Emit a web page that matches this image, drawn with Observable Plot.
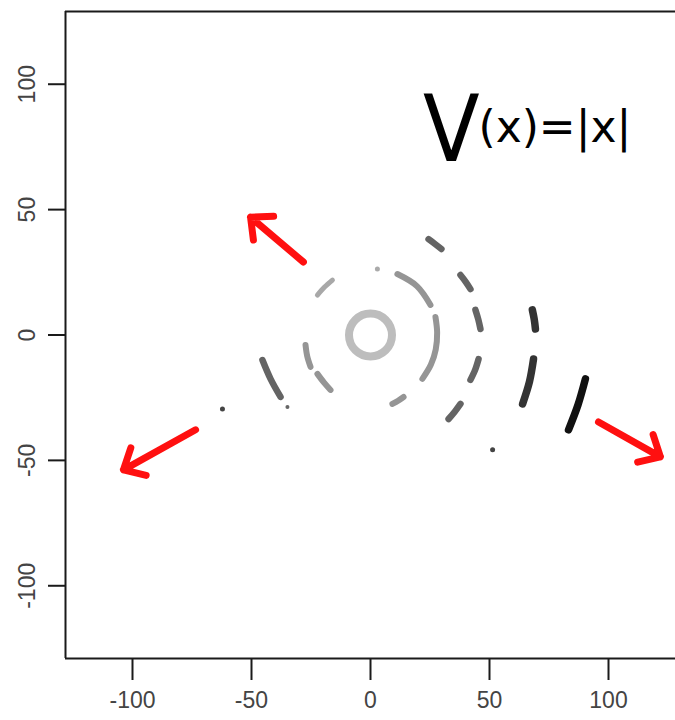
<!DOCTYPE html>
<html><head><meta charset="utf-8">
<script src="https://cdn.jsdelivr.net/npm/d3@7"></script>
<script src="https://cdn.jsdelivr.net/npm/@observablehq/plot@0.6"></script>
<style>
body{margin:0;background:#fff}
</style>
</head><body><div id="chart"></div>
<script>
// axis ticks
const xTicks = [-100, -50, 0, 50, 100];
const yTicks = [-100, -50, 0, 50, 100];
const xDomain = [-128.15, 128.15];
const yDomain = [-129, 129];

// innermost full ring (centre)
const ring1Center = [[0, 0]];

// arc pieces of each ring
const ring2Arcs = [
  [[11.3, 24.3], [19.5, 19.5], [25.2, 12.0]],
  [[27.3, 7.2], [28.0, 1.0], [27.4, -5.8], [25.4, -11.8], [21.8, -17.5]],
  [[9.2, -27.5], [11.6, -26.2], [13.9, -24.7]],
  [[-22.3, -15.5], [-19.6, -18.9], [-16.8, -21.9]],
  [[-27.3, -4.0], [-26.6, -8.4], [-25.2, -12.7]]
];
const ring2FaintArcs = [
  [[-22.3, 15.9], [-19.3, 19.1], [-16.0, 21.9]]
];
const ring2Dots = [[2.9, 26.3]];

const ring3Arcs = [
  [[24.4, 38.2], [27.1, 36.3], [29.8, 34.3]],
  [[37.8, 23.9], [40.0, 21.2], [42.0, 18.3]],
  [[44.1, 10.0], [45.3, 6.2], [46.2, 2.4]],
  [[45.4, -9.6], [44.0, -13.8], [42.0, -17.9]],
  [[37.8, -27.5], [35.4, -30.6], [32.8, -33.5]],
  [[-45.4, -10.0], [-42.0, -17.5], [-37.8, -24.7]]
];
const ring3Dots = [[-34.9, -28.7]];

const ring4Arcs = [
  [[68.0, 10.0], [68.8, 6.2], [69.3, 2.4]],
  [[68.5, -9.6], [66.8, -18.6], [63.9, -27.5]]
];
const ring4Dots = [[51.3, -45.8], [-62.2, -29.5]];

const ring5Arcs = [
  [[90.3, -17.5], [87.2, -27.8], [83.2, -37.8]]
];

// red arrows: [x1, y1, x2, y2]
const arrows = [
  [-28.2, 29.1, -50.4, 47.0],
  [-73.5, -37.8, -103.8, -53.8],
  [95.8, -34.7, 121.8, -48.6]
];

// handwritten annotation
const noteBig = [{x: 34.0, y: 81.0, text: "V"}];
const noteRest = [{x: 77.5, y: 82.5, text: "(x)=|x|"}];

function toRows(arcs) {
  const rows = [];
  arcs.forEach((arc, i) => arc.forEach(([x, y]) => rows.push({id: i, x, y})));
  return rows;
}
function arcMark(arcs, color, width) {
  return Plot.line(toRows(arcs), {x: "x", y: "y", z: "id", curve: "catmull-rom",
    stroke: color, strokeWidth: width, strokeLinecap: "round", strokeLinejoin: "round"});
}
function dotMark(pts, color, r) {
  return Plot.dot(pts, {x: d => d[0], y: d => d[1], r, fill: color, stroke: "none"});
}

const font = "Liberation Sans, Arial, sans-serif";

const chart = Plot.plot({
  width: 675,
  height: 720,
  marginLeft: 65,
  marginRight: 0,
  marginTop: 11,
  marginBottom: 62,
  x: {type: "linear", domain: xDomain, axis: null},
  y: {type: "linear", domain: yDomain, axis: null},
  style: {background: "#fff", overflow: "visible"},
  marks: [
    // frame (left, top, bottom)
    Plot.ruleX([xDomain[0]], {stroke: "#1a1a1a", strokeWidth: 2}),
    Plot.ruleY([yDomain[0], yDomain[1]], {stroke: "#1a1a1a", strokeWidth: 2}),
    // ticks
    Plot.axisX(xTicks, {anchor: "bottom", label: null, tickSize: 22, tickFormat: () => "", stroke: "#1a1a1a", strokeWidth: 2}),
    Plot.axisY(yTicks, {anchor: "left", label: null, tickSize: 17, tickFormat: () => "", stroke: "#1a1a1a", strokeWidth: 2}),
    Plot.text(xTicks, {x: d => d, y: () => yDomain[0], text: d => String(d), dy: 42,
      fontSize: 23, fontFamily: font, fill: "#444", lineAnchor: "middle"}),
    Plot.text(yTicks, {x: () => xDomain[0], y: d => d, text: d => String(d), dx: -38, rotate: -90,
      fontSize: 23, fontFamily: font, fill: "#444", lineAnchor: "middle", textAnchor: "middle"}),
    // rings
    Plot.dot(ring1Center, {x: d => d[0], y: d => d[1], r: 21.5, fill: "none", stroke: "#bdbdbd", strokeWidth: 8}),
    arcMark(ring2FaintArcs, "#a8a8a8", 5),
    arcMark(ring2Arcs, "#959595", 6),
    dotMark(ring2Dots, "#aaa", 2.5),
    arcMark(ring3Arcs, "#646464", 6.5),
    dotMark(ring3Dots, "#666", 2),
    arcMark(ring4Arcs, "#333", 7.5),
    dotMark(ring4Dots, "#444", 2.5),
    arcMark(ring5Arcs, "#111", 7.5),
    // arrows
    Plot.arrow(arrows, {x1: d => d[0], y1: d => d[1], x2: d => d[2], y2: d => d[3],
      stroke: "#ff1010", strokeWidth: 7, headLength: 5, headAngle: 85, strokeLinecap: "round"}),
    // annotation
    Plot.text(noteBig, {x: "x", y: "y", text: "text", fontSize: 92, fontFamily: "DejaVu Sans Condensed, DejaVu Sans, sans-serif", fill: "#000"}),
    Plot.text(noteRest, {x: "x", y: "y", text: "text", fontSize: 44, fontFamily: "DejaVu Sans, sans-serif", fill: "#000"})
  ]
});
document.getElementById("chart").appendChild(chart);
</script>
</body></html>
